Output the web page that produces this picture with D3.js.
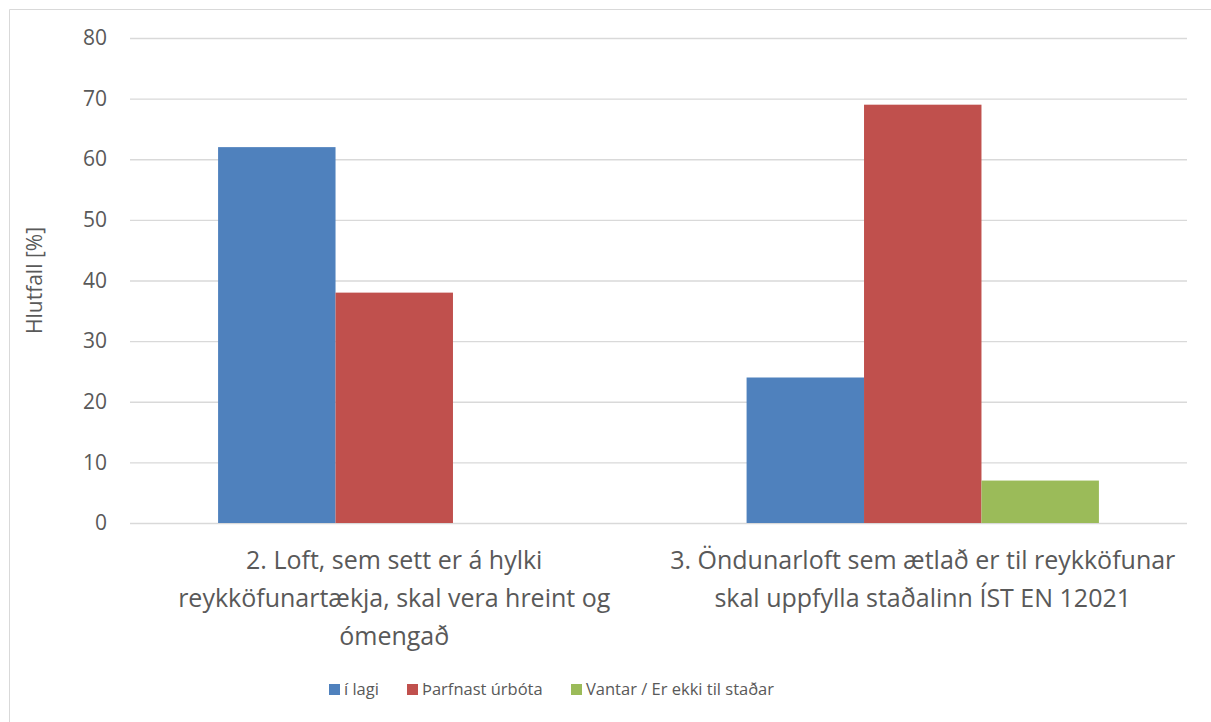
<!DOCTYPE html>
<html>
<head>
<meta charset="utf-8">
<script src="https://cdn.jsdelivr.net/npm/d3@7"></script>
<style>
  body { margin: 0; background: #fff; }
  text { font-family: "Open Sans", sans-serif; fill: #595959; }
</style>
</head>
<body>
<div id="chart"></div>
<script>
var categories = [
  "2. Loft, sem sett er á hylki|reykköfunartækja, skal vera hreint og|ómengað",
  "3. Öndunarloft sem ætlað er til reykköfunar|skal uppfylla staðalinn ÍST EN 12021"
];
var seriesNames = ["í lagi", "Þarfnast úrbóta", "Vantar / Er ekki til staðar"];
var iLagi = [62, 24];
var tharfnast = [38, 69];
var vantar = [0, 7];
var yTicks = [0, 10, 20, 30, 40, 50, 60, 70, 80];
var colors = ["#4F81BD", "#C0504D", "#9BBB59"];

var width = 1211,
    height = 722,
    plotLeft = 130,
    plotRight = 1187,
    plotTop = 38,
    plotBottom = 523;

var values = [iLagi, tharfnast, vantar];

var svg = d3.select("#chart").append("svg")
  .attr("width", width)
  .attr("height", height);

// outer frame (top + left only visible)
svg.append("path")
  .attr("d", "M9.5," + height + "V9.5H" + width)
  .attr("fill", "none")
  .attr("stroke", "#D9D9D9")
  .attr("stroke-width", 1);

var y = d3.scaleLinear().domain([0, 80]).range([plotBottom, plotTop]);
var x0 = d3.scaleBand().domain(d3.range(categories.length)).range([plotLeft, plotRight]).paddingInner(0).paddingOuter(0);
// gap width 150% of a bar: 3 bars + 1.5 gap per band
var x1 = d3.scaleBand().domain(d3.range(seriesNames.length))
  .range([0, x0.bandwidth()]).paddingInner(0).paddingOuter(0.75);

var yAxis = d3.axisLeft(y).tickValues(yTicks).tickSize(-(plotRight - plotLeft)).tickPadding(23);
var gy = svg.append("g").attr("transform", "translate(" + plotLeft + ",0)").call(yAxis);
gy.select(".domain").remove();
gy.selectAll(".tick line").attr("stroke", "#D9D9D9").attr("stroke-width", 1.3);
gy.selectAll(".tick text").attr("font-size", 21).attr("fill", "#595959")
  .style("font-family", "'Open Sans', sans-serif");

var groups = svg.append("g").selectAll("g")
  .data(categories)
  .enter().append("g")
  .attr("transform", function (d, i) { return "translate(" + x0(i) + ",0)"; });

groups.selectAll("rect")
  .data(function (d, i) { return values.map(function (s, j) { return { s: j, v: s[i] }; }); })
  .enter().append("rect")
  .attr("x", function (d) { return x1(d.s); })
  .attr("width", x1.bandwidth())
  .attr("y", function (d) { return y(d.v); })
  .attr("height", function (d) { return plotBottom - y(d.v); })
  .attr("fill", function (d) { return colors[d.s]; });

// category labels
groups.append("text")
  .attr("text-anchor", "middle")
  .attr("font-size", 25)
  .selectAll("tspan")
  .data(function (d) { return d.split("|"); })
  .enter().append("tspan")
  .attr("x", x0.bandwidth() / 2)
  .attr("y", function (d, i) { return 569 + i * 38; })
  .text(function (d) { return d; });

// y axis title
svg.append("text")
  .attr("transform", "translate(42," + ((plotTop + plotBottom) / 2) + ") rotate(-90)")
  .attr("text-anchor", "middle")
  .attr("font-size", 21)
  .text("Hlutfall [%]");

// legend
var legendX = [329, 407, 571];
var legend = svg.append("g").selectAll("g")
  .data(seriesNames)
  .enter().append("g")
  .attr("transform", function (d, i) { return "translate(" + legendX[i] + ",684)"; });
legend.append("rect")
  .attr("width", 11).attr("height", 11)
  .attr("fill", function (d, i) { return colors[i]; });
legend.append("text")
  .attr("x", 15).attr("y", 11)
  .attr("font-size", 16.5)
  .text(function (d) { return d; });
</script>
</body>
</html>
